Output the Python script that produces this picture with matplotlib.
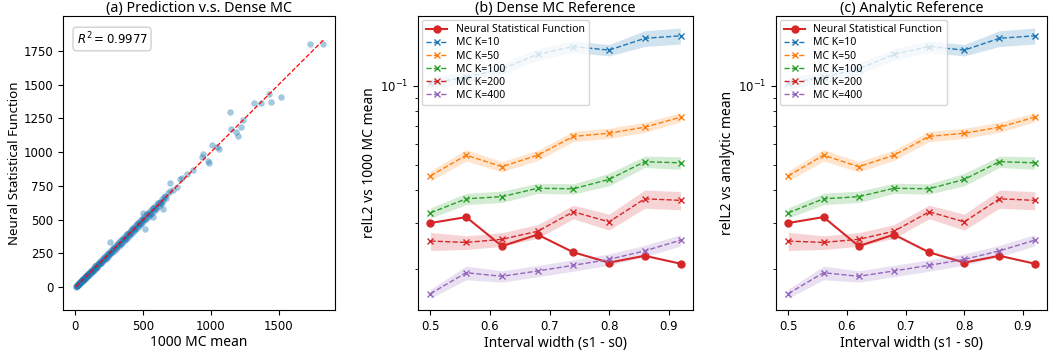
import matplotlib
matplotlib.use("Agg")
import matplotlib.pyplot as plt
import numpy as np
from matplotlib.ticker import NullFormatter

# ---------------- data ----------------
# Panel (a): 1000-MC mean vs. network prediction
mc_mean = [5, 8, 10, 12, 15, 18, 20, 22, 25, 28, 30, 33, 35, 38, 40, 43, 45, 48, 50, 53,
           55, 58, 60, 63, 65, 68, 70, 73, 75, 78, 80, 83, 85, 88, 90, 93, 95, 98, 100, 104,
           108, 112, 116, 120, 124, 128, 132, 136, 140, 144, 148, 152, 156, 160, 165, 170,
           175, 180, 185, 190, 195, 200, 205, 210, 215, 220, 225, 230, 235, 240, 245, 250,
           256, 262, 268, 274, 280, 286, 292, 298, 304, 310, 316, 322, 328, 334, 340, 346,
           352, 358, 364, 370, 376, 382, 388, 394, 400, 406, 412, 418, 424, 430, 436, 442,
           448, 454, 460, 466, 472, 478, 484, 490, 496, 502, 510, 518, 526, 534, 542, 550,
           558, 566, 574, 582, 590, 598, 606, 614, 622, 630, 640, 650, 660, 672, 685, 700,
           14, 26, 37, 52, 66, 79, 94, 110, 126, 142, 158, 176, 192, 208, 224, 242, 258,
           276, 294, 312, 330, 348, 366, 384, 402, 420, 438, 456, 474, 492, 512, 532, 552,
           572, 592, 612, 634, 656,
           1729, 1828, 1515, 1446, 1429, 1318, 1367, 1138, 1200, 1182, 1145, 1239, 1219,
           1059, 1047, 1007, 943, 978, 985, 933, 867, 825, 788, 771, 697, 751, 719, 648,
           517, 571, 500, 259]
nsf_pred = [8, 4, 12, 9, 18, 14, 22, 19, 28, 24, 33, 29, 38, 34, 44, 39, 49, 44, 53, 49,
            60, 54, 64, 58, 70, 63, 74, 69, 80, 73, 85, 78, 90, 83, 95, 88, 101, 92, 105, 98,
            113, 106, 122, 114, 130, 121, 138, 129, 146, 137, 155, 145, 162, 152, 172, 162,
            183, 171, 192, 181, 203, 190, 212, 200, 224, 208, 234, 219, 243, 229, 254, 238,
            266, 250, 277, 262, 290, 272, 302, 285, 314, 296, 327, 308, 340, 320, 350, 331,
            362, 343, 375, 356, 388, 368, 400, 380, 411, 393, 424, 404, 437, 417, 448, 430,
            460, 441, 473, 452, 486, 466, 497, 476, 508, 488, 525, 503, 540, 520, 556, 535,
            572, 553, 588, 568, 604, 585, 620, 600, 632, 618, 655, 640, 672, 660, 700, 710,
            10, 30, 33, 57, 61, 84, 90, 116, 120, 149, 152, 182, 186, 215, 218, 249, 251,
            284, 287, 320, 322, 356, 358, 393, 394, 430, 429, 466, 465, 502, 503, 542, 543,
            583, 580, 623, 624, 668,
            1799, 1797, 1405, 1368, 1430, 1361, 1366, 1294, 1119, 1151, 1168, 1237, 1188,
            1020, 1040, 1052, 983, 934, 917, 966, 868, 838, 811, 799, 774, 744, 720, 577,
            429, 523, 547, 333]
r2_value = 0.9977

# Panels (b) and (c): relative L2 error vs interval width
widths = [0.50, 0.56, 0.62, 0.68, 0.74, 0.80, 0.86, 0.92]
nsf_err = [0.0299, 0.0315, 0.0244, 0.0270, 0.0231, 0.0211, 0.0224, 0.0209]
mc_k10 = [0.1024, 0.1080, 0.1160, 0.1320, 0.1414, 0.1370, 0.1520, 0.1554]
mc_k50 = [0.0453, 0.0543, 0.0491, 0.0543, 0.0641, 0.0659, 0.0695, 0.0759]
mc_k100 = [0.0327, 0.0370, 0.0377, 0.0406, 0.0404, 0.0439, 0.0513, 0.0508]
mc_k200 = [0.0255, 0.0252, 0.0259, 0.0278, 0.0330, 0.0302, 0.0370, 0.0365]
mc_k400 = [0.01606, 0.0193, 0.0187, 0.0196, 0.0206, 0.0217, 0.0234, 0.0257]
# relative half-width of the shaded bands
spread_k10 = [0.05, 0.05, 0.05, 0.05, 0.05, 0.05, 0.07, 0.07]
spread_k50 = [0.045, 0.05, 0.045, 0.045, 0.045, 0.045, 0.045, 0.04]
spread_k100 = [0.045, 0.05, 0.05, 0.045, 0.045, 0.055, 0.05, 0.055]
spread_k200 = [0.08, 0.06, 0.06, 0.06, 0.06, 0.07, 0.08, 0.08]
spread_k400 = [0.04, 0.06, 0.05, 0.05, 0.05, 0.05, 0.05, 0.05]
mc_labels = ["MC K=10", "MC K=50", "MC K=100", "MC K=200", "MC K=400"]

# ---------------- plotting ----------------
LABEL_FONT = ["Noto Sans", "DejaVu Sans"]
plt.rcParams["font.family"] = ["DejaVu Sans"]
plt.rcParams["xtick.labelsize"] = 8.5
plt.rcParams["ytick.labelsize"] = 8.5

fig = plt.figure(figsize=(10.5, 3.54), dpi=100)
W, H = 1050.0, 354.0


def box(left, right, top=16, bottom=310):
    return [left / W, (H - bottom) / H, (right - left) / W, (bottom - top) / H]


ax_a = fig.add_axes(box(63, 335))
ax_b = fig.add_axes(box(418, 693))
ax_c = fig.add_axes(box(776, 1047))

# (a)
x = np.array(mc_mean, dtype=float)
y = np.array(nsf_pred, dtype=float)
ax_a.scatter(x, y, s=22, alpha=0.4, color="tab:blue", linewidths=0)
lo, hi = x.min(), x.max()
ax_a.plot([lo, hi], [lo, hi], color="red", ls="--", lw=0.9)
ax_a.set_xlim(-91, 1915)
ax_a.set_ylim(-168, 2007)
ax_a.set_xticks([0, 500, 1000, 1500])
ax_a.set_yticks([0, 250, 500, 750, 1000, 1250, 1500, 1750])
ax_a.text(0.05, 0.95, r"$R^2 = %.4f$" % r2_value, transform=ax_a.transAxes,
          ha="left", va="top", fontsize=8.5,
          bbox=dict(boxstyle="round", facecolor="white", edgecolor="#cccccc", alpha=0.9))
ax_a.set_title("(a) Prediction v.s. Dense MC", fontsize=10.3, family=LABEL_FONT, pad=3)
ax_a.set_xlabel("1000 MC mean", fontsize=10, family=LABEL_FONT, labelpad=2)
ax_a.set_ylabel("Neural Statistical Function", fontsize=9.6, family=LABEL_FONT, labelpad=2)

mc_series = [mc_k10, mc_k50, mc_k100, mc_k200, mc_k400]
mc_spreads = [spread_k10, spread_k50, spread_k100, spread_k200, spread_k400]
mc_colors = ["tab:blue", "tab:orange", "tab:green", "tab:red", "tab:purple"]


def err_panel(ax, title, ylabel):
    ax.plot(widths, nsf_err, color="tab:red", marker="o", ms=5, lw=1.5,
            label="Neural Statistical Function")
    for vals, spr, col, lab in zip(mc_series, mc_spreads, mc_colors, mc_labels):
        v = np.array(vals)
        s = np.array(spr)
        ax.plot(widths, v, color=col, ls="--", marker="x", ms=5, lw=1.0, label=lab)
        ax.fill_between(widths, v * (1 - s), v * (1 + s), color=col, alpha=0.2, lw=0)
    ax.set_yscale("log")
    ax.set_ylim(0.0139, 0.185)
    ax.set_xlim(0.479, 0.941)
    ax.set_xticks([0.5, 0.6, 0.7, 0.8, 0.9])
    ax.yaxis.set_minor_formatter(NullFormatter())
    ax.set_title(title, fontsize=10.3, family=LABEL_FONT, pad=3)
    ax.set_xlabel("Interval width (s1 - s0)", fontsize=10, family=LABEL_FONT, labelpad=2)
    ax.set_ylabel(ylabel, fontsize=10, family=LABEL_FONT, labelpad=2)
    ax.legend(loc="upper left", prop={"family": LABEL_FONT, "size": 7.5},
              labelspacing=0.2, borderaxespad=0.4)


err_panel(ax_b, "(b) Dense MC Reference", "relL2 vs 1000 MC mean")
err_panel(ax_c, "(c) Analytic Reference", "relL2 vs analytic mean")

fig.savefig("out.png", dpi=100)
